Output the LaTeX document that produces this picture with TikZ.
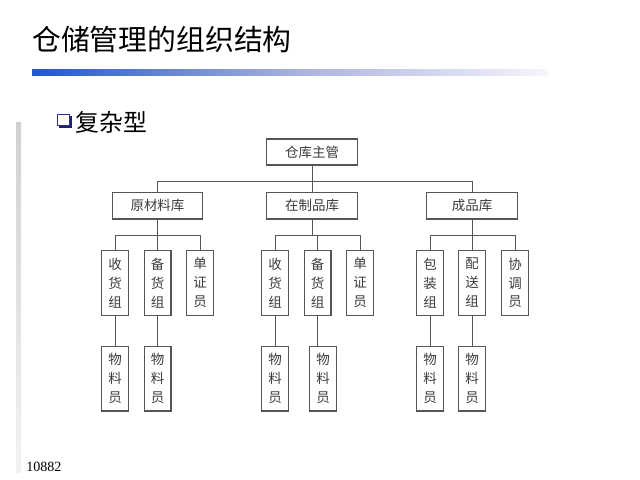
\documentclass[tikz,border=0pt]{standalone}
\usepackage{fontspec}
\setmainfont{Liberation Serif}
\newfontfamily\cjk{Noto Sans CJK SC}
\definecolor{boxline}{RGB}{85,85,85}
\definecolor{boxtext}{RGB}{60,60,60}
\definecolor{navybox}{RGB}{46,49,146}
\definecolor{barblue}{RGB}{30,88,200}
\definecolor{barmid}{RGB}{170,178,224}
\definecolor{barend}{RGB}{245,245,251}
\tikzset{
    head/.style={draw=boxline, line width=0.85pt, rectangle, minimum width=2.265cm, minimum height=0.65cm, inner sep=0pt, font=\cjk\fontsize{9.6}{12}\selectfont, text=boxtext, align=center},
    dept/.style={head, minimum height=0.665cm},
    unit/.style={draw=boxline, line width=0.85pt, rectangle, minimum width=0.667cm, minimum height=1.61cm, inner sep=0pt, font=\cjk\fontsize{9.6}{13.5}\selectfont, text=boxtext, align=center},
    link/.style={draw=boxline, line width=0.7pt},
}

\begin{document}
\begin{tikzpicture}[x=0.025cm, y=-0.025cm]
\useasboundingbox (0,0) rectangle (640,480);

\node[anchor=west, inner sep=0pt, font=\cjk\fontsize{20.5}{24}\selectfont] (title) at (32,40) {仓储管理的组织结构};
\shade[left color=barblue, right color=barmid] (32,69) rectangle (300,75);
\shade[left color=barmid, right color=barend] (300,69) rectangle (548,75);
\shade[top color=black!18, bottom color=black!5] (16,122) rectangle (21,472);
\fill[navybox!70!black] (59,116) rectangle (72,128);
\filldraw[fill=white, draw=navybox, line width=1pt] (57.5,114.5) rectangle (69.5,125.5);
\node[anchor=west, inner sep=0pt, font=\cjk\fontsize{17}{20}\selectfont] (kind) at (75,122.5) {复杂型};
\node[anchor=west, inner sep=0pt, font=\fontsize{10}{12}\selectfont] (pageno) at (26,467) {10882};

\node[head] (boss) at (312,152) {仓库主管};
\node[dept] (raw) at (157.5,205.7) {原材料库};
\node[dept] (wip) at (312,205.7) {在制品库};
\node[dept] (fin) at (472,205.7) {成品库};

\node[unit] (raw1) at (115,282.9) {收\\货\\组};
\node[unit] (raw2) at (157.7,282.9) {备\\货\\组};
\node[unit] (raw3) at (200,282.9) {单\\证\\员};
\node[unit] (wip1) at (275,282.9) {收\\货\\组};
\node[unit] (wip2) at (317.7,282.9) {备\\货\\组};
\node[unit] (wip3) at (360,282.9) {单\\证\\员};
\node[unit] (fin1) at (430,282.9) {包\\装\\组};
\node[unit] (fin2) at (472,282.9) {配\\送\\组};
\node[unit] (fin3) at (515,282.9) {协\\调\\员};

\node[unit] (mat1) at (115,378.7) {物\\料\\员};
\node[unit] (mat2) at (157.7,378.7) {物\\料\\员};
\node[unit] (mat3) at (275,378.7) {物\\料\\员};
\node[unit] (mat4) at (323,378.7) {物\\料\\员};
\node[unit] (mat5) at (430,378.7) {物\\料\\员};
\node[unit] (mat6) at (472,378.7) {物\\料\\员};

\coordinate (topbus) at (312,181.7);
\coordinate (rawbus) at (157.7,235.3);
\coordinate (wipbus) at (317.7,235.3);
\coordinate (finbus) at (472,235.3);

\draw[link] (boss.south) -- (topbus);
\draw[link] (raw.north) |- (topbus) -| (fin.north);
\draw[link] (wip.north) -- (wip.north |- topbus);

\draw[link] (raw.south) -- (raw.south |- rawbus);
\draw[link] (raw1.north) |- (rawbus) -| (raw3.north);
\draw[link] (raw2.north) -- (rawbus);
\draw[link] (wip.south) -- (wip.south |- wipbus);
\draw[link] (wip1.north) |- (wipbus) -| (wip3.north);
\draw[link] (wip2.north) -- (wipbus);
\draw[link] (fin.south) -- (fin.south |- finbus);
\draw[link] (fin1.north) |- (finbus) -| (fin3.north);
\draw[link] (fin2.north) -- (finbus);

\draw[link] (raw1.south) -- (mat1.north);
\draw[link] (raw2.south) -- (mat2.north);
\draw[link] (wip1.south) -- (mat3.north);
\draw[link] (wip2.south) -- (wip2.south |- mat4.north);
\draw[link] (fin1.south) -- (mat5.north);
\draw[link] (fin2.south) -- (mat6.north);

\end{tikzpicture}
\end{document}
